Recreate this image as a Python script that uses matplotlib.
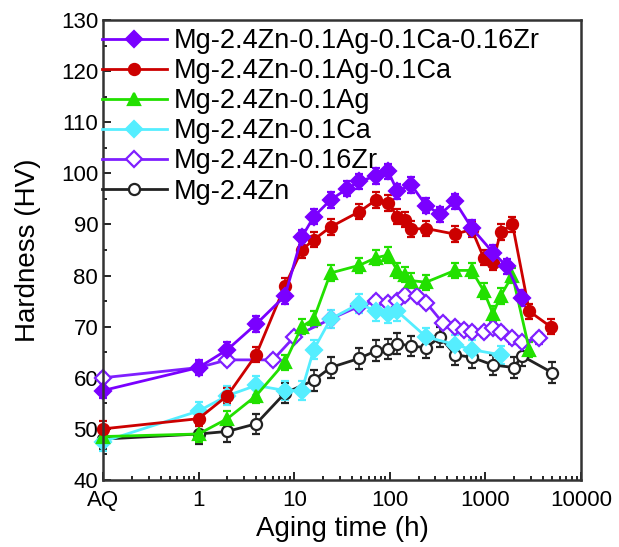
import matplotlib.pyplot as plt
from matplotlib.ticker import FixedLocator, LogLocator, MultipleLocator, NullFormatter

plt.rcParams['font.family'] = ['Liberation Sans', 'DejaVu Sans']

AQ = 0.1  # as-quenched state is drawn at the left edge of the log axis

# Mg-2.4Zn-0.1Ag-0.1Ca-0.16Zr
t_agcazr = [AQ, 1, 2, 4, 8, 12, 16, 24, 36, 48, 72, 96, 120, 168, 240, 336, 480, 720, 1200, 1680, 2400]
hv_agcazr = [57.5, 62, 65.5, 70.5, 76, 87.5, 91.5, 94.8, 97, 98.4, 99.5, 100.4, 96.5, 97.7, 93.7, 92, 94.5, 89.3, 84.5, 81.8, 75.6]
err_agcazr = 1.5

# Mg-2.4Zn-0.1Ag-0.1Ca
t_agca = [AQ, 1, 2, 4, 8, 12, 16, 24, 48, 72, 96, 120, 144, 168, 240, 480, 720, 960, 1200, 1440, 1920, 2880, 4800]
hv_agca = [50, 52, 56.5, 64.5, 78, 85, 87, 89.5, 92.5, 94.8, 94.2, 91.5, 90.9, 89.1, 89.2, 88.1, 89, 83.5, 82.5, 88.5, 90, 73, 70]
err_agca = 1.5

# Mg-2.4Zn-0.1Ag
t_ag = [AQ, 1, 2, 4, 8, 12, 16, 24, 48, 72, 96, 120, 144, 168, 240, 480, 720, 960, 1200, 1440, 1920, 2880]
hv_ag = [48.5, 49, 52, 56.5, 63, 70, 71.5, 80.5, 82, 83.5, 84, 81, 80.2, 79, 78.7, 81, 81, 77, 72.5, 76, 80, 65.5]
err_ag = 1.5

# Mg-2.4Zn-0.1Ca
t_ca = [AQ, 1, 2, 4, 8, 12, 16, 24, 48, 72, 96, 120, 240, 480, 720, 1440]
hv_ca = [47.5, 53.5, 56.5, 58.5, 57.5, 57.5, 65.5, 71.5, 74.5, 73, 72.5, 73, 68, 66.5, 65.5, 64.5]
err_ca = 1.8

# Mg-2.4Zn-0.16Zr
t_zr = [AQ, 1, 2, 6, 10, 24, 48, 72, 96, 120, 144, 192, 240, 360, 480, 600, 720, 960, 1200, 1440, 1920, 2400, 3600]
hv_zr = [60, 62, 63.5, 63.5, 68, 71.5, 74, 75, 74.7, 75, 76.2, 76, 74.7, 70.7, 70, 69.4, 69, 69, 69.7, 69, 67.7, 67, 67.7]
err_zr = 1.0

# Mg-2.4Zn
t_base = [AQ, 1, 2, 4, 8, 16, 24, 48, 72, 96, 120, 168, 240, 336, 480, 720, 1200, 2000, 2400, 5000]
hv_base = [48, 49, 49.5, 51, 57, 59.5, 62, 63.8, 65.3, 65.6, 66.7, 66.2, 65.9, 68, 64.5, 64, 62.5, 62, 64.3, 61]
err_base = 2.0

x_ticks = [AQ, 1, 10, 100, 1000, 10000]
x_ticklabels = ['AQ', '1', '10', '100', '1000', '10000']

series = [
    (t_agcazr, hv_agcazr, err_agcazr, 'Mg-2.4Zn-0.1Ag-0.1Ca-0.16Zr', '#7a00ff', 'D', '#7a00ff'),
    (t_agca, hv_agca, err_agca, 'Mg-2.4Zn-0.1Ag-0.1Ca', '#cc0000', 'o', '#cc0000'),
    (t_ag, hv_ag, err_ag, 'Mg-2.4Zn-0.1Ag', '#22e000', '^', '#22e000'),
    (t_ca, hv_ca, err_ca, 'Mg-2.4Zn-0.1Ca', '#55eeff', 'D', '#55eeff'),
    (t_zr, hv_zr, err_zr, 'Mg-2.4Zn-0.16Zr', '#7f1fff', 'D', 'white'),
    (t_base, hv_base, err_base, 'Mg-2.4Zn', '#222222', 'o', 'white'),
]

fig = plt.figure(figsize=(6.19, 5.47), dpi=100)
ax = fig.add_axes([0.1664, 0.1225, 0.7722, 0.841])

# draw bottom series first so the top curves sit above them
handles = {}
for t, hv, err, label, color, marker, face in reversed(series):
    ms = 8 if marker != '^' else 9
    eb = ax.errorbar(t, hv, yerr=err, color=color, marker=marker, markersize=ms,
                     markerfacecolor=face, markeredgecolor=color, markeredgewidth=1.6,
                     linewidth=2.0, elinewidth=1.2, capsize=3, capthick=1.2,
                     clip_on=False)
    handles[label] = eb[0]

ax.set_xscale('log')
ax.set_xlim(0.1, 10000)
ax.set_ylim(40, 130)

ax.xaxis.set_major_locator(FixedLocator(x_ticks))
ax.set_xticklabels(x_ticklabels)
ax.xaxis.set_minor_locator(LogLocator(base=10, subs=range(2, 10)))
ax.xaxis.set_minor_formatter(NullFormatter())
ax.yaxis.set_major_locator(MultipleLocator(10))
ax.yaxis.set_minor_locator(MultipleLocator(5))

ax.tick_params(which='both', direction='in', top=False, right=False, labelsize=16, width=1.2)
ax.tick_params(which='major', length=6)
ax.tick_params(which='minor', length=3)
ax.tick_params(axis='x', pad=7)
for sp in ax.spines.values():
    sp.set_linewidth(1.8)
    sp.set_color('#333333')

ax.set_xlabel('Aging time (h)', fontsize=20, labelpad=4)
ax.set_ylabel('Hardness (HV)', fontsize=20, labelpad=14)

labels = [s[3] for s in series]
ax.legend([handles[l] for l in labels], labels, loc='upper left', frameon=False, fontsize=19.5,
          bbox_to_anchor=(-0.005, 0.985),
          handlelength=2.4, handletextpad=0.25, labelspacing=0.15, borderaxespad=0.0,
          borderpad=0.05)

fig.savefig('out.png', dpi=100)
